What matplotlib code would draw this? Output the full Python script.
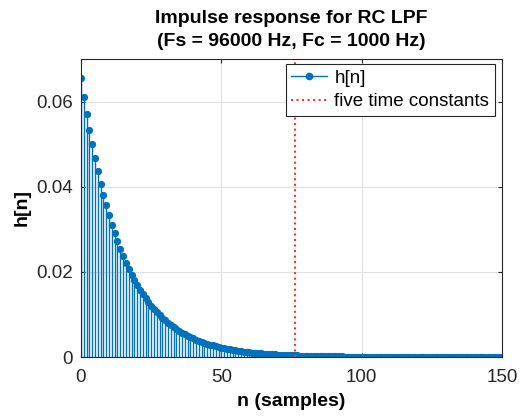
import matplotlib.pyplot as plt
from matplotlib.lines import Line2D
import numpy as np

plt.rcParams['font.family'] = ['Liberation Sans', 'DejaVu Sans']

# impulse response values
h = [0.065450, 0.061166, 0.057163, 0.053422, 0.049926, 0.046658, 0.043604, 0.040750,
     0.038083, 0.035590, 0.033261, 0.031084, 0.029050, 0.027149, 0.025372, 0.023711,
     0.022159, 0.020709, 0.019354, 0.018087, 0.016903, 0.015797, 0.014763, 0.013797,
     0.012894, 0.012050, 0.011261, 0.010524, 0.009835, 0.009191, 0.008589, 0.008027,
     0.007502, 0.007011, 0.006552, 0.006123, 0.005722, 0.005347, 0.004997, 0.004670,
     0.004364, 0.004078, 0.003811, 0.003562, 0.003329, 0.003111, 0.002907, 0.002717,
     0.002539, 0.002373, 0.002218, 0.002073, 0.001937, 0.001810, 0.001692, 0.001581,
     0.001478, 0.001381, 0.001291, 0.001207, 0.001128, 0.001054, 0.000985, 0.000921,
     0.000861, 0.000805, 0.000752, 0.000703, 0.000657, 0.000614, 0.000574, 0.000536,
     0.000501, 0.000468, 0.000437, 0.000408, 0.000381, 0.000356, 0.000333, 0.000311,
     0.000291, 0.000272, 0.000254, 0.000237, 0.000222, 0.000207, 0.000194, 0.000181,
     0.000169, 0.000158, 0.000148, 0.000138, 0.000129, 0.000121, 0.000113, 0.000105,
     0.000098, 0.000092, 0.000086, 0.000080, 0.000075, 0.000070, 0.000065, 0.000061,
     0.000057, 0.000053, 0.000050, 0.000047, 0.000044, 0.000041, 0.000038, 0.000036,
     0.000033, 0.000031, 0.000029, 0.000027, 0.000025, 0.000024, 0.000022, 0.000021,
     0.000019, 0.000018, 0.000017, 0.000016, 0.000015, 0.000014, 0.000013, 0.000012,
     0.000011, 0.000010, 0.0000097, 0.0000091, 0.0000085, 0.0000079, 0.0000074,
     0.0000069, 0.0000065, 0.0000060, 0.0000056, 0.0000053, 0.0000049, 0.0000046,
     0.0000043, 0.0000040, 0.0000038, 0.0000035, 0.0000033, 0.0000031, 0.0000029,
     0.0000027, 0.0000025]
n = np.arange(len(h))
five_tau = 76.39  # samples

blue = '#0072BD'
dark = '#262626'

fig = plt.figure(figsize=(5.21, 4.16), dpi=100)
ax = fig.add_axes([81 / 521, 1 - 357 / 416, 421 / 521, 298 / 416])

markerline, stemlines, baseline = ax.stem(n, h, linefmt='-', markerfmt='o', basefmt=' ')
plt.setp(stemlines, color=blue, linewidth=1.0)
plt.setp(markerline, color=blue, markersize=4.2)
ax.axvline(five_tau, color='#FF3030', linestyle=':', linewidth=1.5)

ax.set_xlim(0, 150)
ax.set_ylim(0, 0.07)
ax.set_xticks([0, 50, 100, 150])
ax.set_yticks([0, 0.02, 0.04, 0.06])
ax.set_yticklabels(['0', '0.02', '0.04', '0.06'])
ax.grid(True, color='#e0e0e0', linewidth=0.8)
ax.set_axisbelow(True)
ax.tick_params(direction='in', length=3, colors=dark, labelsize=13.5, top=True, right=True)
ax.tick_params(axis='x', pad=9)
ax.tick_params(axis='y', pad=6)
for s in ax.spines.values():
    s.set_color(dark)
    s.set_linewidth(0.8)

ax.set_title('Impulse response for RC LPF\n(Fs = 96000 Hz, Fc = 1000 Hz)',
             fontsize=14, fontweight='bold', linespacing=1.5, pad=9)
ax.set_xlabel('n (samples)', fontsize=14, fontweight='bold', labelpad=5)
ax.set_ylabel('h[n]', fontsize=14, fontweight='bold', labelpad=4)

handles = [Line2D([], [], color=blue, marker='o', markersize=4.5, linewidth=1.0),
           Line2D([], [], color='#FF3030', linestyle=':', linewidth=1.5)]
leg = ax.legend(handles, ['h[n]', 'five time constants'], loc='upper right',
                fontsize=13.5, fancybox=False, framealpha=1, edgecolor=dark,
                borderaxespad=0, handlelength=1.9, handletextpad=0.4,
                borderpad=0.3, labelspacing=0.35, markerfirst=True)
leg.get_frame().set_linewidth(0.8)
leg.set_bbox_to_anchor((495 / 521, 1 - 64 / 416), transform=fig.transFigure)

fig.savefig('out.png', dpi=100)
